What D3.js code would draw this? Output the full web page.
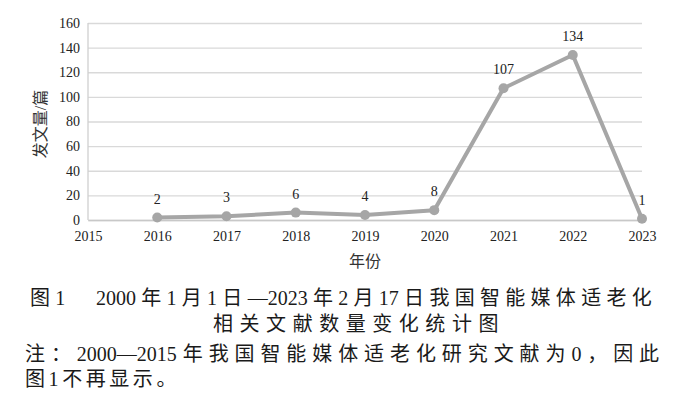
<!DOCTYPE html>
<html>
<head>
<meta charset="utf-8">
<script src="https://cdn.jsdelivr.net/npm/d3@7"></script>
<style>
  body { margin: 0; background: #fff; }
  svg { display: block; }
</style>
</head>
<body>
<svg id="chart" width="700" height="397"></svg>
<script>
const years = [2016, 2017, 2018, 2019, 2020, 2021, 2022, 2023];
const counts = [2, 3, 6, 4, 8, 107, 134, 1];
const xTickYears = [2015, 2016, 2017, 2018, 2019, 2020, 2021, 2022, 2023];
const yTickValues = [0, 20, 40, 60, 80, 100, 120, 140, 160];
const yTitle = '发文量/篇';
const xTitle = '年份';
const captionLines = [
	'图1　2000年1月1日—2023年2月17日我国智能媒体适老化',
	'相关文献数量变化统计图',
	'注：2000—2015年我国智能媒体适老化研究文献为0，因此',
	'图1不再显示。'
];

const svg = d3.select('#chart');
const margin = { top: 23, right: 58, bottom: 177, left: 88 };
const width = 700 - margin.left - margin.right;
const height = 397 - margin.top - margin.bottom;
const font = '"Liberation Serif", "Noto Sans CJK SC", serif';

const x = d3.scaleLinear().domain([2015, 2023]).range([0, width]);
const y = d3.scaleLinear().domain([0, 160]).range([height, 0]);

const g = svg.append('g').attr('transform', `translate(${margin.left},${margin.top})`);

// grid + y labels
const yAxis = g.append('g')
	.call(d3.axisLeft(y).tickValues(yTickValues).tickSize(-width).tickPadding(8));
yAxis.select('.domain').remove();
yAxis.selectAll('.tick line').attr('stroke', '#d9d9d9').attr('stroke-width', 1.3);
yAxis.selectAll('.tick text')
	.attr('fill', '#222')
	.style('font', `14px ${font}`);

// left axis line
g.append('line')
	.attr('x1', 0).attr('x2', 0)
	.attr('y1', 0).attr('y2', height)
	.attr('stroke', '#d0d0d0')
	.attr('stroke-width', 1.3);

// x axis
const xAxis = g.append('g')
	.attr('transform', `translate(0,${height})`)
	.call(d3.axisBottom(x).tickValues(xTickYears).tickFormat(d3.format('d')).tickSize(0).tickPadding(11));
xAxis.select('.domain').attr('stroke', '#c8c8c8').attr('stroke-width', 1.5);
xAxis.selectAll('.tick text')
	.attr('fill', '#222')
	.style('font', `14px ${font}`);

const points = years.map((yr, i) => ({ year: yr, value: counts[i] }));

g.append('path')
	.datum(points)
	.attr('fill', 'none')
	.attr('stroke', '#a6a6a6')
	.attr('stroke-width', 4)
	.attr('stroke-linejoin', 'round')
	.attr('d', d3.line().x(d => x(d.year)).y(d => y(d.value)));

g.selectAll('.dot')
	.data(points)
	.enter().append('circle')
	.attr('class', 'dot')
	.attr('cx', d => x(d.year))
	.attr('cy', d => y(d.value))
	.attr('r', 5)
	.attr('fill', '#a6a6a6');

g.selectAll('.lbl')
	.data(points)
	.enter().append('text')
	.attr('class', 'lbl')
	.attr('x', d => x(d.year))
	.attr('y', d => y(d.value) - 14)
	.attr('text-anchor', 'middle')
	.attr('fill', '#222')
	.style('font', `14px ${font}`)
	.text(d => d.value);

// axis titles
svg.append('text')
	.attr('transform', 'translate(46,124) rotate(-90)')
	.attr('text-anchor', 'middle')
	.attr('fill', '#333')
	.style('font', `16px ${font}`)
	.text(yTitle);

svg.append('text')
	.attr('x', margin.left + x(2019))
	.attr('y', 267)
	.attr('text-anchor', 'middle')
	.attr('fill', '#333')
	.style('font', `16px ${font}`)
	.text(xTitle);

// caption: CJK runs get extra letter spacing, digit runs stay tight
const captionLayout = [
	{ x: 30, y: 305, len: 627 },
	{ x: 213, y: 331, len: 292 },
	{ x: 25, y: 361, len: 640 },
	{ x: 25, y: 386, len: 155 }
];
const cjkRun = /[\u3000-\u9fff\uff00-\uffef]+|[^\u3000-\u9fff\uff00-\uffef]+/g;

captionLines.forEach((line, i) => {
	const lay = captionLayout[i];
	const t = svg.append('text')
		.attr('x', lay.x)
		.attr('y', lay.y)
		.attr('fill', '#1a1a1a')
		.style('font', `20px ${font}`);
	const runs = line.match(cjkRun);
	let slots = 0;
	let prevLatin = false;
	runs.forEach(r => {
		const isCjk = /[\u3000-\u9fff\uff00-\uffef]/.test(r);
		const sp = t.append('tspan').attr('class', isCjk ? 'cjk' : 'lat').text(r);
		if (isCjk) {
			slots += r.length;
			if (prevLatin) { sp.classed('gap', true); slots += 1; }
		}
		prevLatin = !isCjk;
	});
	const natural = t.node().getComputedTextLength();
	const spacing = Math.max(0, (lay.len - natural) / slots);
	t.selectAll('tspan.cjk').style('letter-spacing', `${spacing}px`);
	t.selectAll('tspan.gap').attr('dx', spacing);
});
</script>
</body>
</html>
